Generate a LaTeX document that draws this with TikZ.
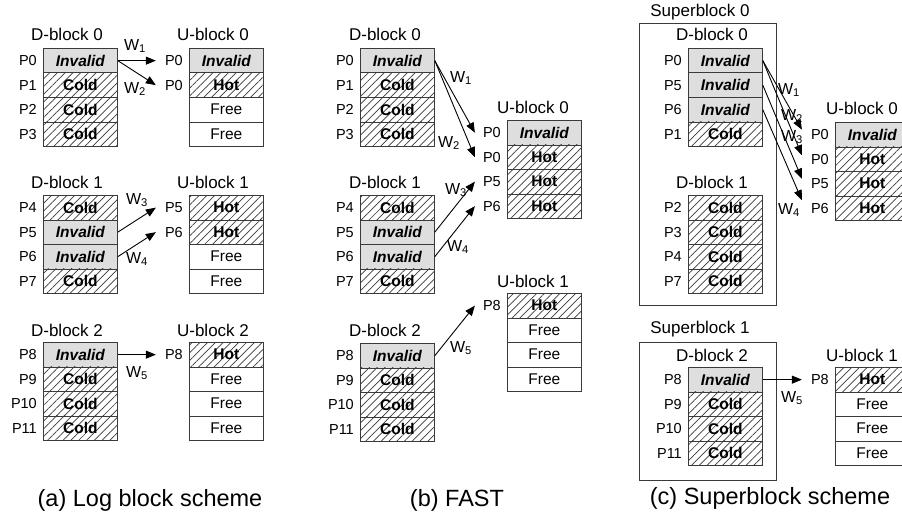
\documentclass[tikz,border=0pt]{standalone}
\usepackage{fontspec}
\setmainfont{Liberation Sans}
\usetikzlibrary{arrows.meta,patterns.meta}
\definecolor{invgray}{HTML}{DEDEDE}
\definecolor{edge}{HTML}{3A3A3A}
\newcommand\pcell[7]{\node[#1] (#2) at (#3,{#4+#5*24.5}) {#6};
  \node[plab] (#2p) at ([xshift=-6pt]#2.west) {#7};}
\newcommand\fcell[5]{\node[free] (#1) at (#2,{#3+#4*24.5}) {#5};}
\begin{document}
\begin{tikzpicture}[x=1pt,y=-1pt,
  cellbox/.style={draw=edge,line width=0.8pt,minimum width=74pt,minimum height=24.5pt,inner sep=0pt,anchor=north west},
  inv/.style={cellbox,fill=invgray,font=\fontsize{15.5}{16}\selectfont\bfseries\itshape},
  hatch/.style={cellbox,pattern={Lines[angle=45,distance=5.5pt,line width=0.7pt]},pattern color=edge,font=\fontsize{15.5}{16}\selectfont\bfseries},
  free/.style={cellbox,fill=white,font=\fontsize{15.5}{16}\selectfont},
  plab/.style={anchor=east,inner sep=0pt,font=\fontsize{14.5}{15}\selectfont},
  blab/.style={inner sep=0pt,font=\fontsize{17}{18}\selectfont},
  wl/.style={inner sep=0pt,font=\fontsize{16}{17}\selectfont},
  captxt/.style={inner sep=0pt,font=\fontsize{23.5}{25}\selectfont},
  sbox/.style={draw=edge,line width=0.8pt},
  wa/.style={-{Triangle[length=10pt,width=8pt]},line width=0.9pt,draw=black}]
\useasboundingbox (0,0) rectangle (902,519);
\fill[white] (0,0) rectangle (902,519);

% ---------------- (a) ----------------
\node[blab] (aDl0) at (67,34) {D-block 0};
\pcell{inv}{ad00}{43}{48}{0}{Invalid}{P0}
\pcell{hatch}{ad01}{43}{48}{1}{Cold}{P1}
\pcell{hatch}{ad02}{43}{48}{2}{Cold}{P2}
\pcell{hatch}{ad03}{43}{48}{3}{Cold}{P3}
\node[blab] (aUl0) at (213,34) {U-block 0};
\pcell{inv}{au00}{189}{48}{0}{Invalid}{P0}
\pcell{hatch}{au01}{189}{48}{1}{Hot}{P0}
\fcell{au02}{189}{48}{2}{Free}
\fcell{au03}{189}{48}{3}{Free}

\node[blab] (aDl1) at (67,182) {D-block 1};
\pcell{hatch}{ad10}{43}{195}{0}{Cold}{P4}
\pcell{inv}{ad11}{43}{195}{1}{Invalid}{P5}
\pcell{inv}{ad12}{43}{195}{2}{Invalid}{P6}
\pcell{hatch}{ad13}{43}{195}{3}{Cold}{P7}
\node[blab] (aUl1) at (213,182) {U-block 1};
\pcell{hatch}{au10}{189}{195}{0}{Hot}{P5}
\pcell{hatch}{au11}{189}{195}{1}{Hot}{P6}
\fcell{au12}{189}{195}{2}{Free}
\fcell{au13}{189}{195}{3}{Free}

\node[blab] (aDl2) at (67,330) {D-block 2};
\pcell{inv}{ad20}{43}{342}{0}{Invalid}{P8}
\pcell{hatch}{ad21}{43}{342}{1}{Cold}{P9}
\pcell{hatch}{ad22}{43}{342}{2}{Cold}{P10}
\pcell{hatch}{ad23}{43}{342}{3}{Cold}{P11}
\node[blab] (aUl2) at (213,330) {U-block 2};
\pcell{hatch}{au20}{189}{342}{0}{Hot}{P8}
\fcell{au21}{189}{342}{1}{Free}
\fcell{au22}{189}{342}{2}{Free}
\fcell{au23}{189}{342}{3}{Free}

\draw[wa] (ad00.east) -- ([xshift=-9pt]au00p.west);
\draw[wa] (ad00.east) -- ([xshift=-9pt]au01p.west);
\draw[wa] (ad11.east) -- ([xshift=-9pt]au10p.west);
\draw[wa] (ad12.east) -- ([xshift=-9pt]au11p.west);
\draw[wa] (ad20.east) -- ([xshift=-9pt]au20p.west);
\node[wl] (aw1) at (135,46) {W\textsubscript{1}};
\node[wl] (aw2) at (135,89) {W\textsubscript{2}};
\node[wl] (aw3) at (137,200) {W\textsubscript{3}};
\node[wl] (aw4) at (137,259) {W\textsubscript{4}};
\node[wl] (aw5) at (137,373) {W\textsubscript{5}};
\node[captxt] (capa) at (150,500) {(a) Log block scheme};

% ---------------- (b) ----------------
\node[blab] (bDl0) at (385,34) {D-block 0};
\pcell{inv}{bd00}{360}{48}{0}{Invalid}{P0}
\pcell{hatch}{bd01}{360}{48}{1}{Cold}{P1}
\pcell{hatch}{bd02}{360}{48}{2}{Cold}{P2}
\pcell{hatch}{bd03}{360}{48}{3}{Cold}{P3}

\node[blab] (bDl1) at (385,182) {D-block 1};
\pcell{hatch}{bd10}{360}{195}{0}{Cold}{P4}
\pcell{inv}{bd11}{360}{195}{1}{Invalid}{P5}
\pcell{inv}{bd12}{360}{195}{2}{Invalid}{P6}
\pcell{hatch}{bd13}{360}{195}{3}{Cold}{P7}

\node[blab] (bDl2) at (385,330) {D-block 2};
\pcell{inv}{bd20}{360}{343}{0}{Invalid}{P8}
\pcell{hatch}{bd21}{360}{343}{1}{Cold}{P9}
\pcell{hatch}{bd22}{360}{343}{2}{Cold}{P10}
\pcell{hatch}{bd23}{360}{343}{3}{Cold}{P11}

\node[blab] (bUl0) at (533,107) {U-block 0};
\pcell{inv}{bu00}{507}{120}{0}{Invalid}{P0}
\pcell{hatch}{bu01}{507}{120}{1}{Hot}{P0}
\pcell{hatch}{bu02}{507}{120}{2}{Hot}{P5}
\pcell{hatch}{bu03}{507}{120}{3}{Hot}{P6}

\node[blab] (bUl1) at (533,281) {U-block 1};
\pcell{hatch}{bu10}{507}{293}{0}{Hot}{P8}
\fcell{bu11}{507}{293}{1}{Free}
\fcell{bu12}{507}{293}{2}{Free}
\fcell{bu13}{507}{293}{3}{Free}

\draw[wa] (bd00.east) -- ([xshift=-8pt]bu00p.west);
\draw[wa] (bd00.east) -- ([xshift=-8pt]bu01p.west);
\draw[wa] (bd11.east) -- ([xshift=-8pt]bu02p.west);
\draw[wa] (bd12.east) -- ([xshift=-8pt]bu03p.west);
\draw[wa] (bd20.east) -- ([xshift=-8pt]bu10p.west);
\node[wl] (bw1) at (461,78) {W\textsubscript{1}};
\node[wl] (bw2) at (449,143) {W\textsubscript{2}};
\node[wl] (bw3) at (456,190) {W\textsubscript{3}};
\node[wl] (bw4) at (458,247) {W\textsubscript{4}};
\node[wl] (bw5) at (461,348) {W\textsubscript{5}};
\node[captxt] (capb) at (457,500) {(b) FAST};

% ---------------- (c) ----------------
\node[blab] (cS0) at (700,12) {Superblock 0};
\draw[sbox] (639,23) rectangle (776,305);
\node[blab] (cDl0) at (712,34) {D-block 0};
\pcell{inv}{cd00}{688}{48}{0}{Invalid}{P0}
\pcell{inv}{cd01}{688}{48}{1}{Invalid}{P5}
\pcell{inv}{cd02}{688}{48}{2}{Invalid}{P6}
\pcell{hatch}{cd03}{688}{48}{3}{Cold}{P1}

\node[blab] (cDl1) at (712,182) {D-block 1};
\pcell{hatch}{cd10}{688}{195}{0}{Cold}{P2}
\pcell{hatch}{cd11}{688}{195}{1}{Cold}{P3}
\pcell{hatch}{cd12}{688}{195}{2}{Cold}{P4}
\pcell{hatch}{cd13}{688}{195}{3}{Cold}{P7}

\node[blab] (cS1) at (700,329) {Superblock 1};
\draw[sbox] (639,342) rectangle (776,480);
\node[blab] (cDl2) at (712,355) {D-block 2};
\pcell{inv}{cd20}{688}{367}{0}{Invalid}{P8}
\pcell{hatch}{cd21}{688}{367}{1}{Cold}{P9}
\pcell{hatch}{cd22}{688}{367}{2}{Cold}{P10}
\pcell{hatch}{cd23}{688}{367}{3}{Cold}{P11}

\node[blab] (cUl0) at (862,108) {U-block 0};
\pcell{inv}{cu00}{835}{122}{0}{Invalid}{P0}
\pcell{hatch}{cu01}{835}{122}{1}{Hot}{P0}
\pcell{hatch}{cu02}{835}{122}{2}{Hot}{P5}
\pcell{hatch}{cu03}{835}{122}{3}{Hot}{P6}

\node[blab] (cUl1) at (862,355) {U-block 1};
\pcell{hatch}{cu10}{835}{367}{0}{Hot}{P8}
\fcell{cu11}{835}{367}{1}{Free}
\fcell{cu12}{835}{367}{2}{Free}
\fcell{cu13}{835}{367}{3}{Free}

\draw[wa] (cd00.east) -- ([xshift=-9pt,yshift=5pt]cu00p.west);
\draw[wa] (cd00.east) -- ([xshift=-9pt,yshift=4pt]cu01p.west);
\draw[wa] (cd01.east) -- ([xshift=-9pt,yshift=5pt]cu02p.west);
\draw[wa] (cd02.east) -- ([xshift=-9pt,yshift=8pt]cu03p.west);
\draw[wa] (cd20.east) -- ([xshift=-9pt]cu10p.west);
\node[wl] (cw1) at (789,90) {W\textsubscript{1}};
\node[wl] (cw2) at (792,116) {W\textsubscript{2}};
\node[wl] (cw3) at (792,137) {W\textsubscript{3}};
\node[wl] (cw4) at (789,210) {W\textsubscript{4}};
\node[wl] (cw5) at (792,398) {W\textsubscript{5}};
\node[captxt] (capc) at (770,498) {(c) Superblock scheme};
\end{tikzpicture}
\end{document}
